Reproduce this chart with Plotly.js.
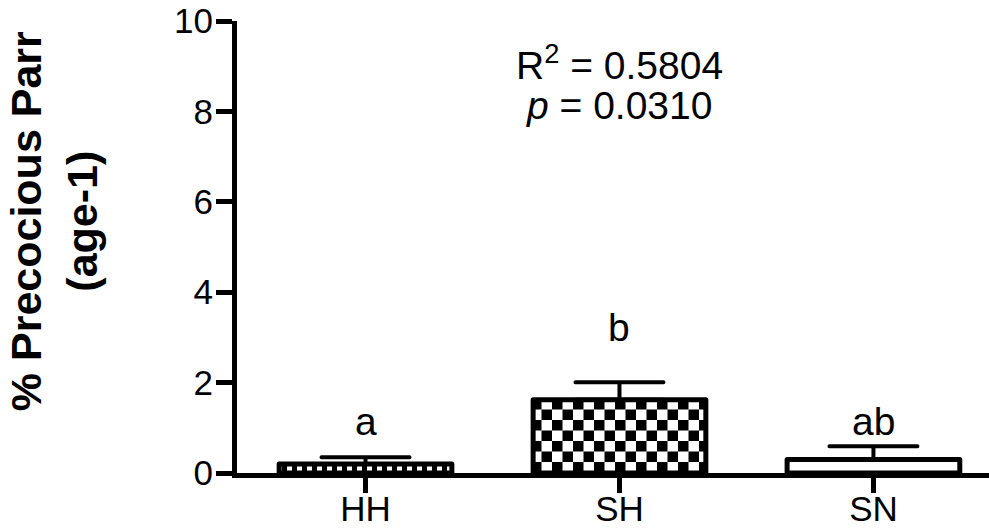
<!DOCTYPE html>
<html>
<head>
<meta charset="utf-8">
<script src="https://cdn.plot.ly/plotly-3.0.1.min.js"></script>
<style>
html,body{margin:0;padding:0;background:#fff;}
#chart{width:989px;height:530px;}
</style>
</head>
<body>
<div id="chart"></div>
<script>
// ---- data ----
var categories = ['HH', 'SH', 'SN'];
var means = [0.2, 1.62, 0.3];
var sem = [0.15, 0.39, 0.29];
var groupLetters = ['a', 'b', 'ab'];
var letterY = [1.14, 3.22, 1.14];
var statLine1 = 'R<sup>2</sup> = 0.5804';
var statLine2 = '<i>p</i> = 0.0310';
var yTicks = [0, 2, 4, 6, 8, 10];
var yTitle = '<b>% Precocious Parr<br>(age-1)</b>';

var FONT = 'Liberation Sans, Arial, sans-serif';

var trace = {
  type: 'bar',
  x: categories,
  y: means,
  width: 0.68,
  marker: {
    color: '#ffffff',
    line: {color: '#000000', width: 5},
    pattern: {
      shape: ['+', '+', ''],
      size: [10, 21, 21],
      fgcolor: '#000000',
      bgcolor: '#ffffff',
      fillmode: 'replace'
    }
  },
  error_y: {
    type: 'data',
    symmetric: false,
    array: sem,
    arrayminus: sem.map(function(){return 0;}),
    color: '#000000',
    thickness: 4,
    width: 44
  },
  hoverinfo: 'none'
};

var annotations = [];
for (var i = 0; i < categories.length; i++) {
  annotations.push({
    x: categories[i], y: letterY[i], xref: 'x', yref: 'y',
    text: groupLetters[i], showarrow: false,
    xanchor: 'center', yanchor: 'middle',
    font: {family: FONT, size: 39, color: '#000'}
  });
}
annotations.push({
  x: categories[1], y: 0.908, xref: 'x', yref: 'paper',
  text: statLine1, showarrow: false, xanchor: 'center', yanchor: 'middle',
  font: {family: FONT, size: 39, color: '#000'}
});
annotations.push({
  x: categories[1], y: 0.812, xref: 'x', yref: 'paper',
  text: statLine2, showarrow: false, xanchor: 'center', yanchor: 'middle',
  font: {family: FONT, size: 39, color: '#000'}
});
annotations.push({
  x: -0.244, y: 0.556, xref: 'paper', yref: 'paper',
  text: yTitle, showarrow: false, textangle: -90,
  xanchor: 'center', yanchor: 'middle', align: 'center',
  font: {family: FONT, size: 43, color: '#000'}
});

var layout = {
  width: 989, height: 530,
  margin: {l: 237, r: 0, t: 21, b: 57, pad: 0},
  paper_bgcolor: '#fff', plot_bgcolor: '#fff',
  showlegend: false,
  font: {family: FONT, color: '#000'},
  xaxis: {
    type: 'category',
    range: [-0.506, 2.455],
    showline: true, linecolor: '#000', linewidth: 5,
    ticks: 'outside', ticklen: 15, tickwidth: 5, tickcolor: '#000',
    ticklabelstandoff: -14,
    showgrid: false, zeroline: false,
    tickfont: {family: FONT, size: 35, color: '#000'}
  },
  yaxis: {
    range: [0, 10],
    tickvals: yTicks,
    showline: true, linecolor: '#000', linewidth: 5,
    ticks: 'outside', ticklen: 16, tickwidth: 5, tickcolor: '#000',
    ticklabelstandoff: -4,
    showgrid: false, zeroline: false,
    tickfont: {family: FONT, size: 35, color: '#000'}
  },
  annotations: annotations
};

Plotly.newPlot('chart', [trace], layout, {staticPlot: true, displayModeBar: false}).then(function(gd) {
  var ns = 'http://www.w3.org/2000/svg';
  var pats = gd.querySelectorAll('pattern');
  pats.forEach(function(p) {
    var s = parseFloat(p.getAttribute('width'));
    while (p.firstChild) p.removeChild(p.firstChild);
    function r(x, y, w, h, c) {
      var e = document.createElementNS(ns, 'rect');
      e.setAttribute('x', x); e.setAttribute('y', y);
      e.setAttribute('width', w); e.setAttribute('height', h);
      e.setAttribute('fill', c);
      p.appendChild(e);
    }
    r(0, 0, s, s, '#ffffff');
    r(0, 0, s / 2, s / 2, '#000000');
    r(s / 2, s / 2, s / 2, s / 2, '#000000');
  });
  gd.querySelectorAll('.bars path').forEach(function(p) {
    p.style.strokeLinejoin = 'round';
  });
  gd.querySelectorAll('.errorbar path').forEach(function(p) {
    p.style.strokeLinecap = 'round';
  });
});
</script>
</body>
</html>
